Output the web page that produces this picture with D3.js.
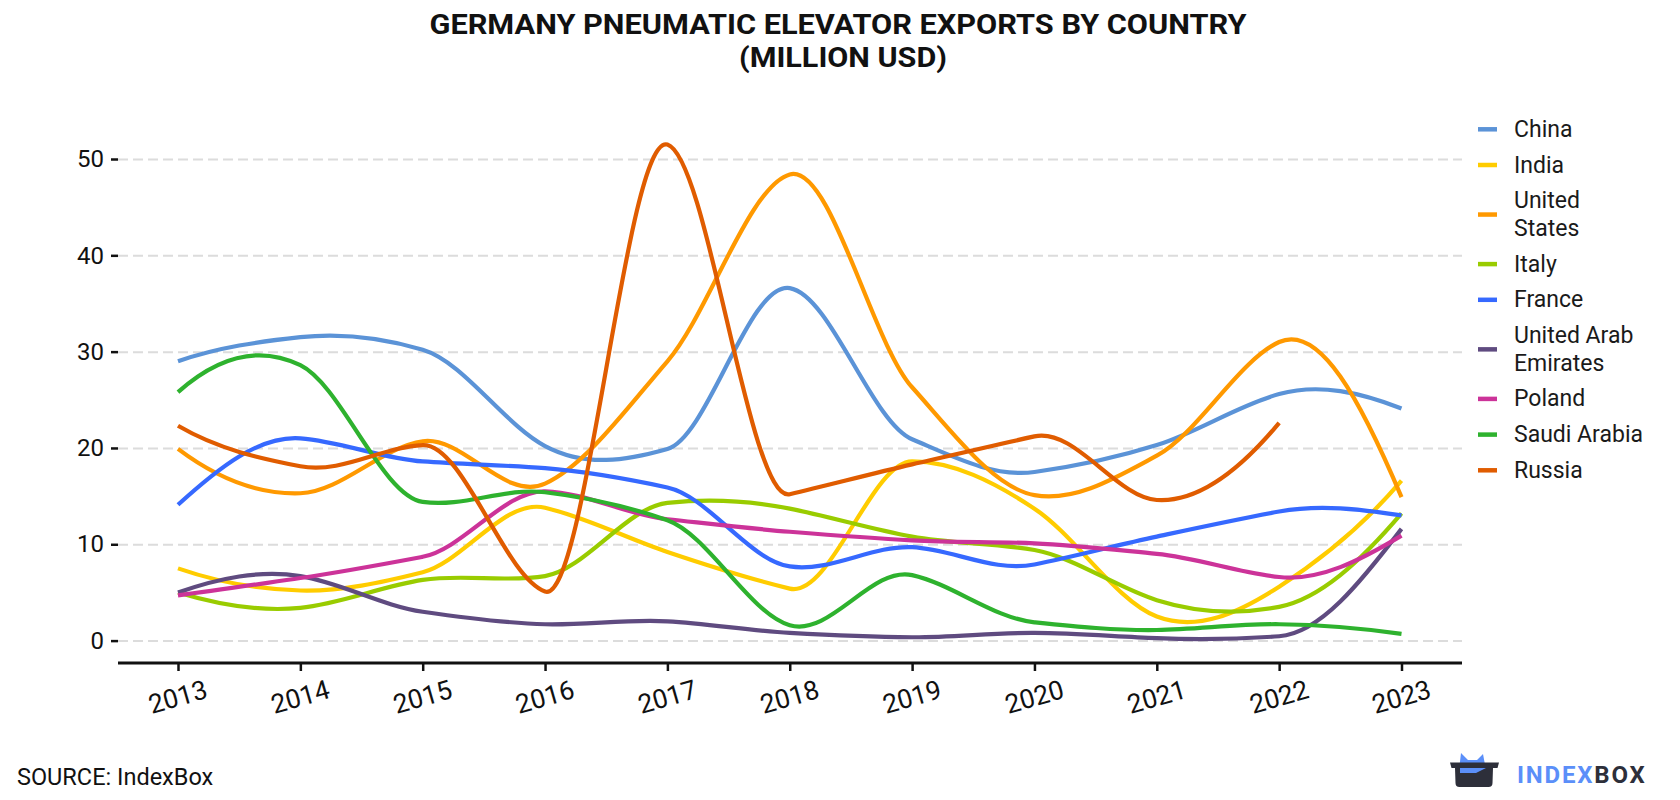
<!DOCTYPE html>
<html><head><meta charset="utf-8">
<script src="https://cdn.jsdelivr.net/npm/d3@7"></script>
<style>
body{margin:0;background:#fff;}
svg{display:block;font-family:Roboto,"Noto Sans",sans-serif;}
</style>
</head><body>
<svg id="chart" width="1680" height="800"></svg>
<script>
// ---------- data ----------
const years = [2013, 2014, 2015, 2016, 2017, 2018, 2019, 2020, 2021, 2022, 2023];
const yTicks = [0, 10, 20, 30, 40, 50];
const seriesNames = ["China", "India", "United States", "Italy", "France", "United Arab Emirates", "Poland", "Saudi Arabia", "Russia"];
const seriesColors = ["#5b93d7", "#ffcc00", "#ff9900", "#99cc00", "#3669ff", "#5f4b80", "#cc3399", "#2eb22e", "#e05c00"];
const china  = [29.0, 31.5, 30.2, 20.2, 19.9, 36.6, 20.9, 17.5, 20.3, 25.6, 24.1];
const india  = [7.5, 5.2, 7.1, 13.8, 9.2, 5.4, 18.6, 13.7, 2.5, 5.6, 16.6];
const usa    = [19.9, 15.3, 20.7, 16.3, 29.0, 48.4, 26.3, 15.1, 19.2, 31.0, 14.9];
const italy  = [5.0, 3.4, 6.3, 6.7, 14.3, 13.7, 10.8, 9.4, 4.2, 3.5, 13.2];
const france = [14.1, 21.0, 18.6, 17.9, 15.9, 7.7, 9.7, 7.9, 10.8, 13.4, 13.0];
const uae    = [5.0, 6.7, 3.0, 1.7, 2.0, 0.8, 0.35, 0.8, 0.25, 0.45, 11.6];
const poland = [4.7, 6.5, 8.7, 15.5, 12.6, 11.3, 10.4, 10.1, 9.0, 6.6, 10.9];
const saudi  = [25.8, 28.6, 14.4, 15.4, 12.5, 1.6, 6.8, 1.9, 1.1, 1.7, 0.7];
const russia = [22.3, 18.1, 20.3, 5.1, 51.5, 15.2, 18.3, 21.2, 14.6, 22.6, null];
const seriesValues = [china, india, usa, italy, france, uae, poland, saudi, russia];
const titleLines = ["GERMANY PNEUMATIC ELEVATOR EXPORTS BY COUNTRY", "(MILLION USD)"];
const sourceText = "SOURCE: IndexBox";

// ---------- Akima interpolating curve (d3 custom curve) ----------
function akimaSlopes(xs, ys) {
  const n = xs.length, m = new Array(n + 3);
  for (let i = 0; i < n - 1; i++) m[i + 2] = (ys[i + 1] - ys[i]) / (xs[i + 1] - xs[i]);
  m[1] = 2 * m[2] - m[3];
  m[0] = 2 * m[1] - m[2];
  m[n + 1] = 2 * m[n] - m[n - 1];
  m[n + 2] = 2 * m[n + 1] - m[n];
  const dm = [];
  for (let i = 0; i < n + 2; i++) dm.push(Math.abs(m[i + 1] - m[i]));
  let maxF = 0;
  for (let i = 0; i < n; i++) maxF = Math.max(maxF, dm[i + 2] + dm[i]);
  const t = [];
  for (let i = 0; i < n; i++) {
    const f1 = dm[i + 2], f2 = dm[i];
    t.push(f1 + f2 > 1e-9 * maxF ? (f1 * m[i + 1] + f2 * m[i + 2]) / (f1 + f2) : 0.5 * (m[i + 1] + m[i + 2]));
  }
  return t;
}
function AkimaCurve(context) { this._context = context; }
AkimaCurve.prototype = {
  areaStart() {}, areaEnd() {},
  lineStart() { this._xs = []; this._ys = []; },
  point(px, py) { this._xs.push(+px); this._ys.push(+py); },
  lineEnd() {
    const xs = this._xs, ys = this._ys, n = xs.length, c = this._context;
    if (!n) return;
    c.moveTo(xs[0], ys[0]);
    if (n === 2) { c.lineTo(xs[1], ys[1]); return; }
    if (n < 2) return;
    const t = akimaSlopes(xs, ys);
    for (let i = 0; i < n - 1; i++) {
      const h = xs[i + 1] - xs[i];
      c.bezierCurveTo(xs[i] + h / 3, ys[i] + t[i] * h / 3,
                      xs[i + 1] - h / 3, ys[i + 1] - t[i + 1] * h / 3,
                      xs[i + 1], ys[i + 1]);
    }
  }
};
const curveAkima = context => new AkimaCurve(context);

// ---------- layout ----------
const svg = d3.select("#chart");
const x = d3.scaleLinear().domain([2013, 2023]).range([178, 1401.5]);
const y = d3.scaleLinear().domain([0, 50]).range([640.6, 159]);
const axisLeftX = 118, axisRightX = 1462, axisY = 663;

// grid
const grid = d3.axisLeft(y).tickValues(yTicks).tickSize(-(axisRightX - axisLeftX)).tickFormat("");
const gg = svg.append("g").attr("transform", `translate(${axisLeftX},0)`).call(grid);
gg.select(".domain").remove();
gg.selectAll(".tick line").attr("stroke", "#dcdcdc").attr("stroke-width", 2).attr("stroke-dasharray", "10,5");

// title
const title = svg.append("g").attr("fill", "#111").attr("font-weight", 700).attr("text-anchor", "middle");
title.append("text").attr("x", 838).attr("y", 33.5).attr("font-size", 28)
  .attr("textLength", 817).attr("lengthAdjust", "spacingAndGlyphs").text(titleLines[0]);
title.append("text").attr("x", 843).attr("y", 67).attr("font-size", 28)
  .attr("textLength", 208).attr("lengthAdjust", "spacingAndGlyphs").text(titleLines[1]);

// y axis
const yAxis = d3.axisLeft(y).tickValues(yTicks).tickSize(7).tickPadding(7).tickFormat(d3.format("d"));
const gy = svg.append("g").attr("transform", `translate(${axisLeftX},0)`).call(yAxis);
gy.select(".domain").remove();
gy.selectAll(".tick line").attr("stroke", "#111").attr("stroke-width", 2.5);
gy.selectAll(".tick text").attr("font-size", 24).attr("fill", "#111").attr("font-family", "Roboto");

// x axis
const xAxis = d3.axisBottom(x).tickValues(years).tickSize(8).tickFormat(d3.format("d"));
const gx = svg.append("g").attr("transform", `translate(0,${axisY})`).call(xAxis);
gx.select(".domain").remove();
gx.append("line").attr("x1", axisLeftX).attr("x2", axisRightX).attr("y1", 0).attr("y2", 0)
  .attr("stroke", "#111").attr("stroke-width", 3);
gx.selectAll(".tick line").attr("stroke", "#111").attr("stroke-width", 2.5);
gx.selectAll(".tick text").attr("font-size", 26.5).attr("fill", "#111").attr("font-family", "Roboto")
  .attr("y", 0).attr("dy", 0)
  .attr("text-anchor", "middle").attr("dominant-baseline", "middle")
  .attr("transform", "translate(0,36) rotate(-16)");

// lines
const line = d3.line()
  .defined(d => d.v !== null)
  .x(d => x(d.year)).y(d => y(d.v))
  .curve(curveAkima);
const series = seriesNames.map((n, i) => ({
  name: n, color: seriesColors[i],
  points: years.map((yr, j) => ({year: yr, v: seriesValues[i][j] === undefined ? null : seriesValues[i][j]}))
}));
svg.append("g").selectAll("path").data(series).join("path")
  .attr("d", s => line(s.points))
  .attr("fill", "none").attr("stroke", s => s.color).attr("stroke-width", 4.2)
  .attr("stroke-linejoin", "round").attr("stroke-linecap", "butt");

// legend
function wrapLabel(name) {
  const words = name.split(" "), out = [];
  let cur = "";
  words.forEach(w => {
    const t = cur ? cur + " " + w : w;
    if (t.length > 12 && cur) { out.push(cur); cur = w; } else cur = t;
  });
  out.push(cur);
  return out;
}
const lh = 27.7, gap = 8;
let legendTop = 129.3 - lh / 2;
const lg = svg.append("g");
series.forEach(s => {
  const lines = wrapLabel(s.name);
  const h = lines.length * lh;
  const cy = legendTop + h / 2;
  lg.append("line").attr("x1", 1478).attr("x2", 1497).attr("y1", cy).attr("y2", cy)
    .attr("stroke", s.color).attr("stroke-width", 4.5);
  const t = lg.append("text").attr("font-size", 23).attr("fill", "#1a1a1a");
  lines.forEach((ln, k) => {
    t.append("tspan").attr("x", 1514).attr("y", legendTop + lh * k + lh / 2).attr("dominant-baseline", "central").text(ln);
  });
  legendTop += h + gap;
});

// source
svg.append("text").attr("x", 17).attr("y", 785).attr("font-size", 23.5).attr("fill", "#111").text(sourceText);

// logo
const logo = svg.append("g");
logo.append("path").attr("fill", "#5b8ff9")
  .attr("d", "M1459,770 L1461,753 L1468,760 L1477,760 L1483,754 L1486,770 Z");
logo.append("path").attr("fill", "#2d2f3a")
  .attr("d", "M1450,762.5 L1499,762.5 L1497.5,768 L1493,768 L1492.5,783 Q1492.5,787 1488.5,787 L1459.5,787 Q1455.5,787 1455.5,783 L1455,768 L1451.5,768 Z");
logo.append("path").attr("fill", "#5b8ff9")
  .attr("d", "M1460,768 L1486,768 L1476,773 L1460,773 Z");
const lt = logo.append("text").attr("x", 1517).attr("y", 783).attr("font-size", 24).attr("font-weight", 700)
  .attr("letter-spacing", 1.8);
lt.append("tspan").attr("fill", "#5b8ff9").text("INDEX");
lt.append("tspan").attr("fill", "#2d2f3a").text("BOX");
</script>
</body></html>
